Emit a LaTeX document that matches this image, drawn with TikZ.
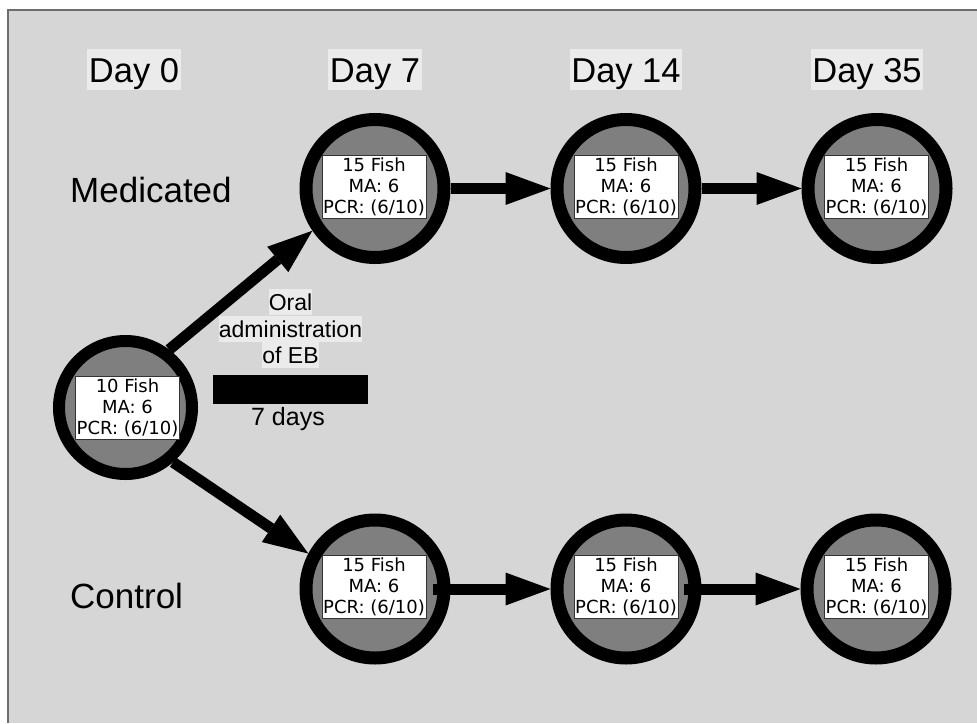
\documentclass[tikz,border=0pt]{standalone}
\usepackage{fontspec}
\setmainfont{Liberation Sans}
\newfontfamily\boxfont{DejaVu Sans}
\usetikzlibrary{arrows.meta}
\definecolor{bggray}{HTML}{D6D6D6}
\definecolor{hlgray}{HTML}{EBEBEB}
\definecolor{midgray}{HTML}{7F7F7F}
\definecolor{framegray}{HTML}{6E6E6E}
\begin{document}
\begin{tikzpicture}[x=1pt,y=-1pt,
  ring/.style={circle,draw=black,line width=13pt,fill=midgray,minimum size=138pt,inner sep=0pt},
  ringsmall/.style={ring,line width=12pt,minimum size=133pt},
  infobox/.style={draw=black!80,line width=0.8pt,fill=white,font=\boxfont\fontsize{18}{21}\selectfont,align=center,inner xsep=1pt,inner ysep=1.5pt,minimum width=104pt,minimum height=63pt},
  daylbl/.style={anchor=base,fill=hlgray,font=\fontsize{34.5}{41}\selectfont,inner xsep=1.5pt,inner ysep=0pt,text height=33pt,text depth=8pt},
  grouplbl/.style={anchor=base west,font=\fontsize{35}{42}\selectfont,inner sep=0pt},
  oral/.style={anchor=base,fill=hlgray,inner sep=0pt,font=\fontsize{23}{27}\selectfont,text height=20.8pt,text depth=4.9pt},
  conn/.style={line width=11pt,-{Triangle[length=45pt,width=33pt,line width=0pt]}}
]
\useasboundingbox (0,0) rectangle (977,723);
\fill[bggray] (8,10) rectangle (977,723);
\draw[framegray,line width=1.5pt] (8,723) -- (8,10) -- (977,10);

% day labels
\node[daylbl] (t0) at (134,82) {Day 0};
\node[daylbl] (t7) at (375,82) {Day 7};
\node[daylbl] (t14) at (626,82) {Day 14};
\node[daylbl] (t35) at (867,82) {Day 35};

% group labels
\node[grouplbl] (med) at (70,202) {Medicated};
\node[grouplbl] (ctl) at (70,608) {Control};

% circles
\node[ringsmall] (d0) at (125.5,407.5) {};
\node[ring] (m7) at (375,188.5) {};
\node[ring] (m14) at (626,188.5) {};
\node[ring] (m35) at (877,188.5) {};
\node[ring] (c7) at (375,589) {};
\node[ring] (c14) at (626,589) {};
\node[ring] (c35) at (876,589) {};

% info boxes
\node[infobox] (b0) at (127.5,408) {10 Fish\\MA: 6\\PCR: (6/10)};
\node[infobox] (bm7) at (374,187) {15 Fish\\MA: 6\\PCR: (6/10)};
\node[infobox] (bm14) at (626,187) {15 Fish\\MA: 6\\PCR: (6/10)};
\node[infobox] (bm35) at (876.5,187) {15 Fish\\MA: 6\\PCR: (6/10)};
\node[infobox] (bc7) at (374,587) {15 Fish\\MA: 6\\PCR: (6/10)};
\node[infobox] (bc14) at (626,587) {15 Fish\\MA: 6\\PCR: (6/10)};
\node[infobox] (bc35) at (876.5,587) {15 Fish\\MA: 6\\PCR: (6/10)};

% treatment annotation
\node[oral] (o1) at (290.5,310) {Oral};
\node[oral] (o2) at (290.5,337) {administration};
\node[oral] (o3) at (290.5,363) {of EB};
\node[fill=black,minimum width=155pt,minimum height=29pt,inner sep=0pt] (bar) at (290.5,389.5) {};
\node[anchor=base,font=\fontsize{25}{30}\selectfont,inner sep=0pt] (days) at (288,425) {7 days};

% connectors
\coordinate (c7o) at ([xshift=58pt]c7.center);
\coordinate (c14o) at ([xshift=58pt]c14.center);
\draw[conn] (d0.53.6) -- (m7.214.6);
\draw[conn] (d0.-49.1) -- (c7.152.8);
\draw[conn] (m7.east) -- (m14.west);
\draw[conn] (m14.east) -- (m35.west);
\draw[conn] (c7o) -- (c14.west);
\draw[conn] (c14o) -- (c35.west);
\end{tikzpicture}
\end{document}
